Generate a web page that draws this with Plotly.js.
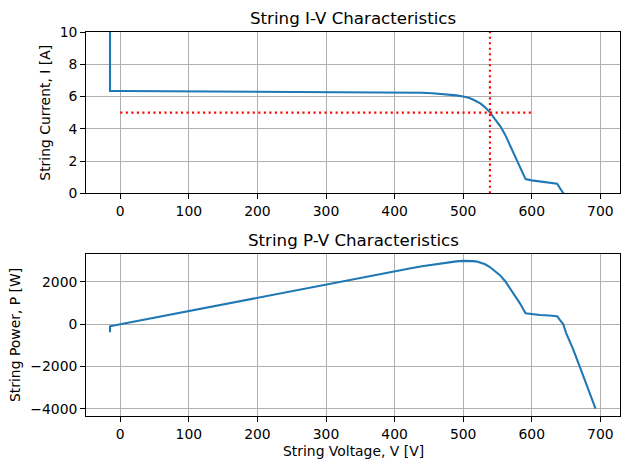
<!DOCTYPE html>
<html>
<head>
<meta charset="utf-8">
<script src="https://cdn.plot.ly/plotly-3.0.1.min.js"></script>
<style>html,body{margin:0;padding:0;background:#fff;}#chart{width:630px;height:469px;}</style>
</head>
<body>
<div id="chart"></div>
<script>
// String voltage [V]
var voltage = [-15, -15, 0, 100, 200, 300, 350, 400, 420, 440, 455, 470, 480, 490, 500, 508, 515, 520, 525, 532, 539, 546, 554, 561, 568, 575, 583, 591, 600, 612, 625, 637, 641, 646, 650, 660, 670, 680, 693];
// String current [A]
var current = [25, 6.35, 6.34, 6.32, 6.30, 6.28, 6.27, 6.26, 6.25, 6.23, 6.20, 6.16, 6.12, 6.07, 6.00, 5.92, 5.80, 5.70, 5.57, 5.33, 5.02, 4.62, 4.17, 3.65, 3.02, 2.40, 1.68, 0.88, 0.80, 0.72, 0.66, 0.60, 0.33, 0.0, -0.62, -1.74, -2.99, -4.19, -5.76];
// String power [W]
var power = [-380, -95, 0, 632, 1260, 1884, 2195, 2504, 2625, 2741, 2821, 2895, 2938, 2974, 3000, 3007, 2987, 2964, 2924, 2836, 2706, 2523, 2310, 2048, 1715, 1380, 979, 520, 480, 441, 413, 382, 205, 0, -403, -1148, -2003, -2849, -3992];
// Maximum power point markers
var mppVoltage = 539;
var mppCurrent = 5;
var hLineV = [0, 600];
var hLineI = [mppCurrent, mppCurrent];
var vLineV = [mppVoltage, mppVoltage];
var vLineI = [0, 10];

var blue = '#1f77b4';
var font = 'DejaVu Sans, Liberation Sans, sans-serif';
var dotted = '2.08px,3.44px';

var traces = [
  {x: voltage, y: current, xaxis: 'x', yaxis: 'y', mode: 'lines', line: {color: blue, width: 2.08}, hoverinfo: 'skip'},
  {x: hLineV, y: hLineI, xaxis: 'x', yaxis: 'y', mode: 'lines', line: {color: 'red', width: 2.08, dash: dotted}, hoverinfo: 'skip'},
  {x: vLineV, y: vLineI, xaxis: 'x', yaxis: 'y', mode: 'lines', line: {color: 'red', width: 2.08, dash: dotted}, hoverinfo: 'skip'},
  {x: voltage, y: power, xaxis: 'x2', yaxis: 'y2', mode: 'lines', line: {color: blue, width: 2.08}, hoverinfo: 'skip'}
];

function ax(extra) {
  var base = {
    showline: true, mirror: true, linecolor: '#000', linewidth: 1,
    showgrid: true, gridcolor: '#b0b0b0', gridwidth: 1,
    zeroline: false,
    ticks: 'outside', ticklen: 4.9, tickwidth: 1, tickcolor: '#000',
    tickfont: {family: font, size: 13.9, color: '#000'},
    automargin: false
  };
  for (var k in extra) base[k] = extra[k];
  return base;
}

var xr = [-50, 728.7];
var layout = {
  width: 630, height: 469,
  margin: {l: 86, r: 10, t: 32, b: 53},
  paper_bgcolor: '#fff', plot_bgcolor: '#fff',
  showlegend: false,
  font: {family: font, color: '#000'},
  xaxis: ax({anchor: 'y', domain: [0, 1], range: xr, dtick: 100, tick0: 0}),
  yaxis: ax({anchor: 'x', domain: [0.58, 1], range: [0, 10], dtick: 2, tick0: 0}),
  xaxis2: ax({anchor: 'y2', domain: [0, 1], range: xr, dtick: 100, tick0: 0}),
  yaxis2: ax({anchor: 'x2', domain: [0, 0.4219], range: [-4336, 3324], dtick: 2000, tick0: 0}),
  annotations: [
    {text: 'String I-V Characteristics', xref: 'paper', yref: 'paper', x: 0.5, y: 1, xanchor: 'center', yanchor: 'middle', yshift: 14, showarrow: false, font: {family: font, size: 16.67, color: '#000'}},
    {text: 'String P-V Characteristics', xref: 'paper', yref: 'paper', x: 0.5, y: 0.4219, xanchor: 'center', yanchor: 'middle', yshift: 13, showarrow: false, font: {family: font, size: 16.67, color: '#000'}},
    {text: 'String Current, I [A]', xref: 'paper', yref: 'paper', x: 0, y: 0.79, xanchor: 'center', yanchor: 'middle', xshift: -41, textangle: -90, showarrow: false, font: {family: font, size: 13.9, color: '#000'}},
    {text: 'String Power, P [W]', xref: 'paper', yref: 'paper', x: 0, y: 0.211, xanchor: 'center', yanchor: 'middle', xshift: -71, textangle: -90, showarrow: false, font: {family: font, size: 13.9, color: '#000'}},
    {text: 'String Voltage, V [V]', xref: 'paper', yref: 'paper', x: 0.5, y: 0, xanchor: 'center', yanchor: 'middle', yshift: -35, showarrow: false, font: {family: font, size: 13.9, color: '#000'}}
  ]
};

Plotly.newPlot('chart', traces, layout, {staticPlot: true, displayModeBar: false});
</script>
</body>
</html>
